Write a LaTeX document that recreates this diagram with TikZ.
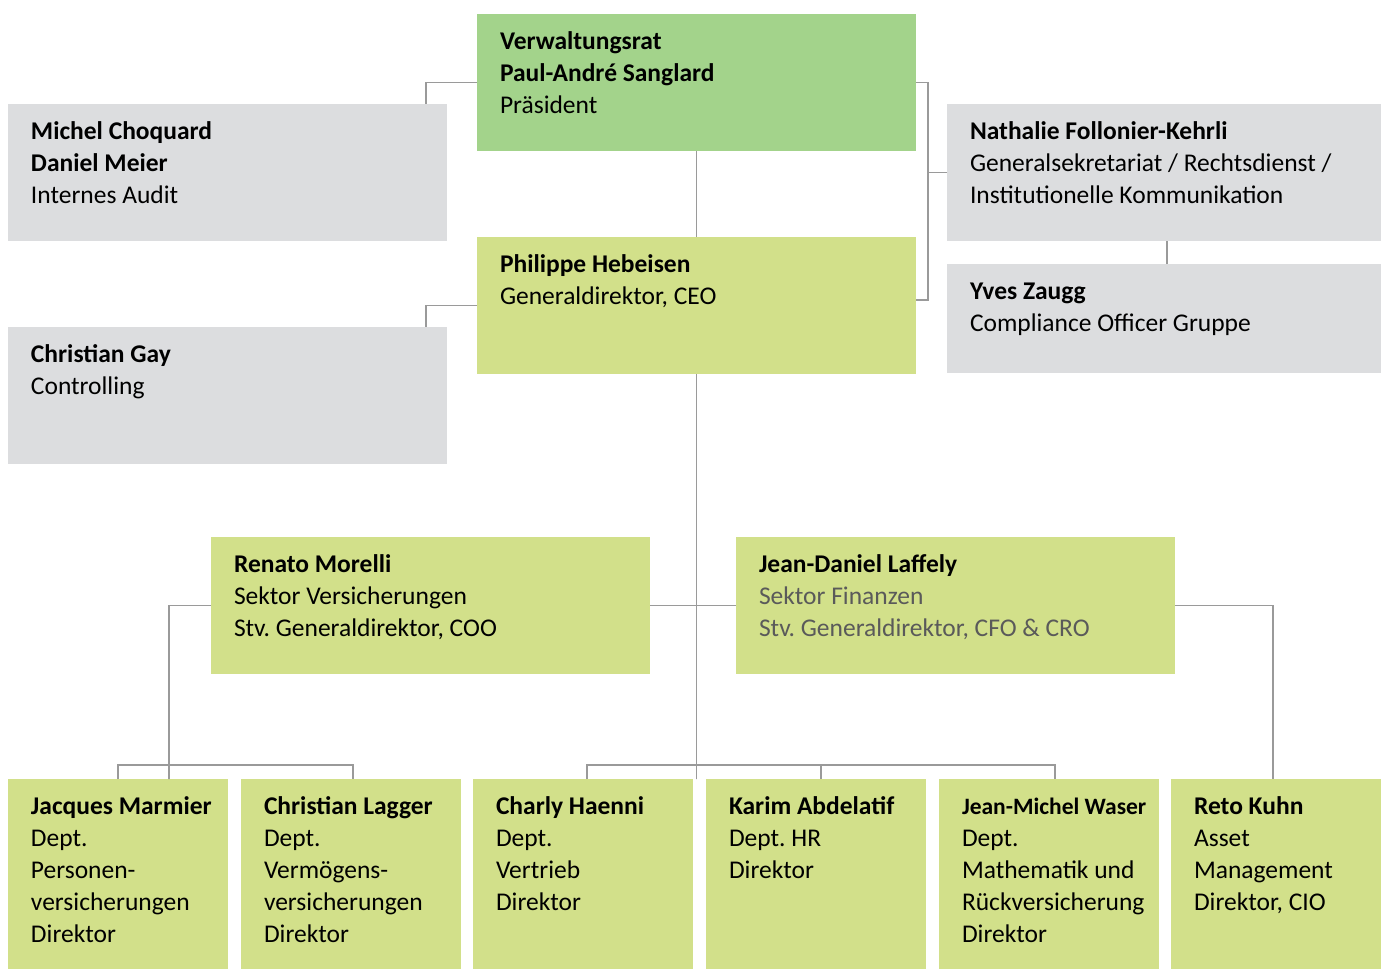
\documentclass[tikz,border=0pt]{standalone}
\usepackage{fontspec}
\setmainfont{Carlito}
\frenchspacing
\definecolor{topgreen}{HTML}{A3D38B}
\definecolor{lightgreen}{HTML}{D2E08A}
\definecolor{boxgray}{HTML}{DCDDDF}
\definecolor{linegray}{HTML}{9A9A9A}
\definecolor{textgray}{HTML}{5A5A5A}
\usetikzlibrary{calc}
\tikzset{
  orgbox/.style={inner sep=0pt, outer sep=0pt, anchor=north west, draw=none},
  conn/.style={draw=linegray, line width=1.6pt}
}
\newcommand\boxtext[3]{\parbox[t][#2pt][t]{#1pt}{\fontsize{25.5}{32}\selectfont\leftskip=23pt\rule{0pt}{35pt}#3}}
\begin{document}
\begin{tikzpicture}[x=1pt,y=-1pt]
\useasboundingbox (0,0) rectangle (1381,969);
% boxes
\node[orgbox, fill=topgreen] (verw) at (477,14) {\boxtext{439}{137}{\textbf{Verwaltungsrat}\\\textbf{Paul-André Sanglard}\\Präsident}};
\node[orgbox, fill=lightgreen] (phil) at (477,237) {\boxtext{439}{137}{\textbf{Philippe Hebeisen}\\Generaldirektor, CEO}};
\node[orgbox, fill=boxgray] (michel) at (8,104) {\boxtext{439}{137}{\textbf{Michel Choquard}\\\textbf{Daniel Meier}\\Internes Audit}};
\node[orgbox, fill=boxgray] (gay) at (8,327) {\boxtext{439}{137}{\textbf{Christian Gay}\\Controlling}};
\node[orgbox, fill=boxgray] (nath) at (947,104) {\boxtext{434}{137}{\textbf{Nathalie Follonier-Kehrli}\\Generalsekretariat / Rechtsdienst /\\Institutionelle Kommunikation}};
\node[orgbox, fill=boxgray] (yves) at (947,264) {\boxtext{434}{109}{\textbf{Yves Zaugg}\\Compliance Officer Gruppe}};
\node[orgbox, fill=lightgreen] (renato) at (211,537) {\boxtext{439}{137}{\textbf{Renato Morelli}\\Sektor Versicherungen\\Stv. Generaldirektor, COO}};
\node[orgbox, fill=lightgreen] (jd) at (736,537) {\boxtext{439}{137}{\textbf{Jean-Daniel Laffely}\\\textcolor{textgray}{Sektor Finanzen}\\\textcolor{textgray}{Stv. Generaldirektor, CFO \& CRO}}};
\node[orgbox, fill=lightgreen] (jacques) at (8,779) {\boxtext{220}{190}{\textbf{Jacques Marmier}\\Dept.\\Personen-\\versicherungen\\Direktor}};
\node[orgbox, fill=lightgreen] (lagger) at (241,779) {\boxtext{220}{190}{\textbf{Christian Lagger}\\Dept.\\Vermögens-\\versicherungen\\Direktor}};
\node[orgbox, fill=lightgreen] (charly) at (473,779) {\boxtext{220}{190}{\textbf{Charly Haenni}\\Dept.\\Vertrieb\\Direktor}};
\node[orgbox, fill=lightgreen] (karim) at (706,779) {\boxtext{220}{190}{\textbf{Karim Abdelatif}\\Dept. HR\\Direktor}};
\node[orgbox, fill=lightgreen] (jm) at (939,779) {\boxtext{220}{190}{{\fontsize{23.5}{32}\selectfont\textbf{Jean-Michel Waser}}\\Dept.\\Mathematik und\\Rückversicherung\\Direktor}};
\node[orgbox, fill=lightgreen] (reto) at (1171,779) {\boxtext{210}{190}{\textbf{Reto Kuhn}\\Asset\\Management\\Direktor, CIO}};
% helper coordinates
\coordinate (rbus) at ($(verw.east)+(12,0)$);
\coordinate (lbus) at ($(renato.west)+(-42,0)$);
% connectors
\draw[conn] (verw.west) -| ([xshift=-21pt]michel.north east);
\draw[conn] (verw.east) -- (rbus) |- ([yshift=5.5pt]phil.east);
\draw[conn] (nath.west) -- (nath.west -| rbus);
\draw[conn] (verw.south) -- (phil.north);
\draw[conn] (phil.west) -| ([xshift=-21pt]gay.north east);
\draw[conn] ([xshift=3pt]nath.south) -- ([xshift=3pt]yves.north);
\draw[conn] (phil.south) -- (phil.south |- charly.north) -- ++(0,-14);
\draw[conn] (renato.east) -- (jd.west);
\draw[conn] (renato.west) -- (lbus) -- (lbus |- jacques.north) -- ++(0,-14);
\draw[conn] (jacques.north) -- ++(0,-14) -| ([xshift=2pt]lagger.north);
\draw[conn] ([xshift=4pt]charly.north) -- ++(0,-14) -| ([xshift=6pt]jm.north);
\draw[conn] ([xshift=5pt]karim.north) -- ++(0,-14);
\draw[conn] (jd.east) -| ([xshift=-3pt]reto.north);
\end{tikzpicture}
\end{document}
